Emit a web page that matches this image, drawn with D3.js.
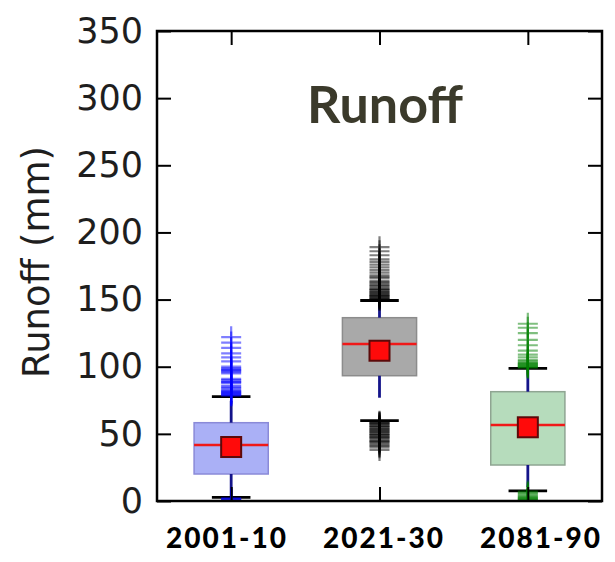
<!DOCTYPE html>
<html>
<head>
<meta charset="utf-8">
<script src="https://cdn.jsdelivr.net/npm/d3@7"></script>
<style>
  html, body { margin: 0; padding: 0; background: #fff; }
  svg { display: block; }
</style>
</head>
<body>
<div id="chart"></div>
<script>
// Decadal runoff distributions (mm)
const categories = ["2001-10", "2021-30", "2081-90"];
const q1 = [20.1, 93.3, 26.8];
const q3 = [58.3, 136.5, 81.4];
const medians = [41.7, 116.9, 56.6];
const means = [40.2, 111.9, 54.9];
const whiskerLow = [2.7, 59.8, 7.6];
const whiskerHigh = [77.8, 149.3, 98.8];
const fliersHigh = [
  [78.5, 79, 79.5, 80, 80.5, 81, 81.5, 82, 83, 84, 85, 86, 88, 88.5, 89, 90, 91, 95, 96, 97, 97.5, 98, 99, 100, 104, 107, 110, 114, 118, 122],
  [149.8, 150.3, 150.8, 151.3, 152, 152.5, 153, 153.5, 154, 155, 155.5, 156, 157, 157.5, 158, 159, 160, 161, 162, 163, 164, 166, 167, 168, 170, 172, 174, 176, 178, 180, 183, 186, 189],
  [99.3, 99.8, 100.3, 100.8, 101.3, 102, 102.5, 103, 104, 105, 107, 109, 112, 116, 120, 125, 129, 132]
];
const fliersLow = [
  [0.5, 1, 1.5, 2],
  [59, 58.5, 58, 57.5, 57, 56, 55.5, 55, 54, 53.5, 53, 52, 51.5, 51, 50, 49.5, 49, 48, 47.5, 47, 46, 45, 44.5, 44, 43, 42, 41, 40, 38],
  [0.5, 1, 1.5, 2, 2.5, 3, 4, 5, 6, 7]
];
const yTicks = [0, 50, 100, 150, 200, 250, 300, 350];

// Styling per decade
const boxFill = ["#aab0f6", "#a9a9a9", "#b6dcbc"];
const boxStroke = ["#8a8ad8", "#8c8c8c", "#8fa592"];
const flierColor = ["#0000ff", "#000000", "#008000"];

const W = 615, H = 562;
const margin = { left: 157, top: 31, right: 13, bottom: 61 };
const w = W - margin.left - margin.right;
const h = H - margin.top - margin.bottom;

const svg = d3.select("#chart").append("svg")
  .attr("width", W).attr("height", H);

const g = svg.append("g").attr("transform", `translate(${margin.left},${margin.top})`);

const x = d3.scalePoint().domain(categories).range([0, w]).padding(0.5);
const y = d3.scaleLinear().domain([0, 350]).range([h, 0]);
const step = x.step();
const boxW = step * 0.5;
const capW = step * 0.26;

svg.append("defs").append("clipPath").attr("id", "plot-clip")
  .append("rect").attr("width", w).attr("height", h);

const plot = g.append("g").attr("clip-path", "url(#plot-clip)");

categories.forEach((c, i) => {
  const cx = x(c);
  const grp = plot.append("g");

  // box
  grp.append("rect")
    .attr("x", cx - boxW / 2).attr("width", boxW)
    .attr("y", y(q3[i])).attr("height", y(q1[i]) - y(q3[i]))
    .attr("fill", boxFill[i]).attr("stroke", boxStroke[i]).attr("stroke-width", 1.5);

  // median
  grp.append("line")
    .attr("x1", cx - boxW / 2).attr("x2", cx + boxW / 2)
    .attr("y1", y(medians[i])).attr("y2", y(medians[i]))
    .attr("stroke", "#f01818").attr("stroke-width", 2.5);

  // whiskers (dashed)
  [[q3[i], whiskerHigh[i]], [q1[i], whiskerLow[i]]].forEach(([a, b]) => {
    grp.append("line")
      .attr("x1", cx).attr("x2", cx)
      .attr("y1", y(a)).attr("y2", y(b))
      .attr("stroke", "#14148a").attr("stroke-width", 2.8)
      .attr("stroke-dasharray", "22,40");
  });

  // caps
  [whiskerHigh[i], whiskerLow[i]].forEach(v => {
    grp.append("line")
      .attr("x1", cx - capW / 2).attr("x2", cx + capW / 2)
      .attr("y1", y(v)).attr("y2", y(v))
      .attr("stroke", "#000").attr("stroke-width", 2.8);
  });

  // fliers as + markers
  const allFliers = fliersHigh[i].concat(fliersLow[i]);
  grp.selectAll("path.flier").data(allFliers).join("path")
    .attr("class", "flier")
    .attr("transform", d => `translate(${cx},${y(d)})`)
    .attr("d", "M-10,0H10M0,-11V11")
    .attr("stroke", flierColor[i]).attr("stroke-width", 2.2)
    .attr("stroke-opacity", 0.5).attr("fill", "none");

  // mean marker
  grp.append("rect")
    .attr("x", cx - 10).attr("y", y(means[i]) - 10)
    .attr("width", 20).attr("height", 20)
    .attr("fill", "#ff0a0a").attr("stroke", "#5c0a0a").attr("stroke-width", 2);
});

// Axes with inward ticks on all four sides
const tickLen = 14;
const styleAxis = sel => {
  sel.select(".domain").remove();
  sel.selectAll(".tick line").attr("stroke", "#000").attr("stroke-width", 2);
};

g.append("g")
  .call(d3.axisLeft(y).tickValues(yTicks).tickSize(-tickLen).tickPadding(14))
  .call(styleAxis)
  .call(s => s.selectAll("text")
    .attr("font-family", "DejaVu Sans").attr("font-size", 35).attr("fill", "#1e1e1e"));

g.append("g").attr("transform", `translate(${w},0)`)
  .call(d3.axisRight(y).tickValues(yTicks).tickSize(-tickLen).tickFormat(""))
  .call(styleAxis);

g.append("g").attr("transform", `translate(0,${h})`)
  .call(d3.axisBottom(x).tickSize(-tickLen).tickFormat(""))
  .call(styleAxis);

g.append("g")
  .call(d3.axisTop(x).tickSize(-tickLen).tickFormat(""))
  .call(styleAxis);

// frame
g.append("rect").attr("width", w).attr("height", h)
  .attr("fill", "none").attr("stroke", "#000").attr("stroke-width", 2.5);

// decade labels below the frame
const labelX = d3.scalePoint().domain(categories).range([227, 541]);
svg.append("g").selectAll("text").data(categories).join("text")
  .attr("x", d => labelX(d)).attr("y", 548)
  .attr("text-anchor", "middle")
  .attr("font-family", "Lato").attr("font-weight", 900)
  .attr("font-size", 28).attr("letter-spacing", 2)
  .attr("fill", "#000")
  .text(d => d);

// y-axis title
svg.append("text")
  .attr("transform", "translate(49,262) rotate(-90)")
  .attr("text-anchor", "middle")
  .attr("font-family", "DejaVu Sans").attr("font-size", 37).attr("fill", "#1e1e1e")
  .text("Runoff (mm)");

// chart title inside the frame
svg.append("text")
  .attr("x", 385).attr("y", 123)
  .attr("text-anchor", "middle")
  .attr("font-family", "Lato").attr("font-weight", "bold")
  .attr("font-size", 52).attr("fill", "#3b3a2b")
  .text("Runoff");
</script>
</body>
</html>
